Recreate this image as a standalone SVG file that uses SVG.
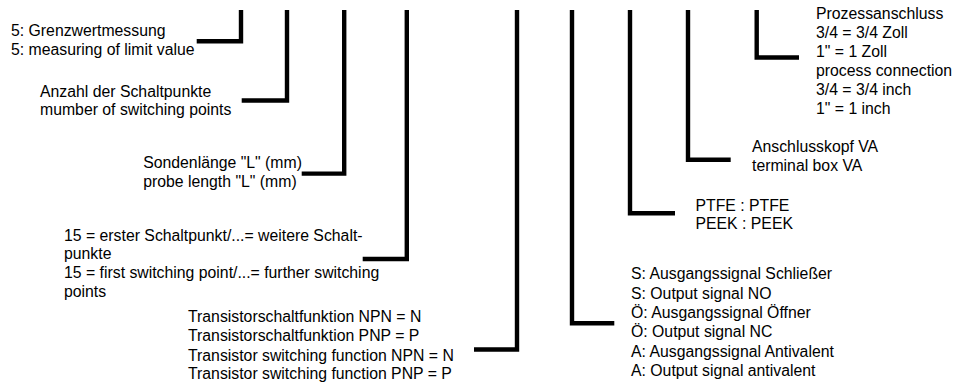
<svg xmlns="http://www.w3.org/2000/svg" width="956" height="382" viewBox="0 0 956 382">
<style>
text{font-family:"Liberation Sans",Arial,sans-serif;font-size:15.8px;fill:#000}
.c{fill:none;stroke:#000;stroke-width:4.4;stroke-linejoin:miter;stroke-linecap:butt}
</style>
<rect width="956" height="382" fill="#fff"/>
<g id="connectors">
<path class="c" d="M241 10V41.3H196.7"/>
<path class="c" d="M287 10V100.5H241.7"/>
<path class="c" d="M344.2 10V173.6H301.7"/>
<path class="c" d="M406.8 10V259H362.7"/>
<path class="c" d="M517 10V349.5H474"/>
<path class="c" d="M572 10V323.3H614.3"/>
<path class="c" d="M630 10V213.3H675"/>
<path class="c" d="M688 10V159.8H730.7"/>
<path class="c" d="M756.7 10V57.5H799"/>
</g>
<g id="n1"><text x="11" y="36.4">5: Grenzwertmessung</text><text x="11" y="54.6">5: measuring of limit value</text></g>
<g id="n2"><text x="40" y="96.7">Anzahl der Schaltpunkte</text><text x="40" y="115">mumber of switching points</text></g>
<g id="n3"><text x="143.2" y="168.3">Sondenlänge "L" (mm)</text><text x="143.2" y="186.7">probe length "L" (mm)</text></g>
<g id="n4"><text x="64" y="240.7">15 = erster Schaltpunkt/...= weitere Schalt-</text><text x="64" y="259.3">punkte</text><text x="64" y="278.3">15 = first switching point/...= further switching</text><text x="64" y="296.7">points</text></g>
<g id="n5"><text x="188" y="321.7">Transistorschaltfunktion NPN = N</text><text x="188" y="341">Transistorschaltfunktion PNP = P</text><text x="188" y="360.5">Transistor switching function NPN = N</text><text x="188" y="379.3">Transistor switching function PNP = P</text></g>
<g id="n6"><text x="631" y="279.3">S: Ausgangssignal Schließer</text><text x="631" y="299.3">S: Output signal NO</text><text x="631" y="318.3">Ö: Ausgangssignal Öffner</text><text x="631" y="337.3">Ö: Output signal NC</text><text x="631" y="356.7">A: Ausgangssignal Antivalent</text><text x="631" y="375.7">A: Output signal antivalent</text></g>
<g id="n7"><text x="695.5" y="210.7">PTFE : PTFE</text><text x="695.5" y="229.3">PEEK : PEEK</text></g>
<g id="n8"><text x="752" y="151.7">Anschlusskopf VA</text><text x="752" y="170.7">terminal box VA</text></g>
<g id="n9"><text x="816" y="19.3">Prozessanschluss</text><text x="816" y="37.7">3/4 = 3/4 Zoll</text><text x="816" y="56.7">1" = 1 Zoll</text><text x="816" y="75.7">process connection</text><text x="816" y="95">3/4 = 3/4 inch</text><text x="816" y="114">1" = 1 inch</text></g>
</svg>
